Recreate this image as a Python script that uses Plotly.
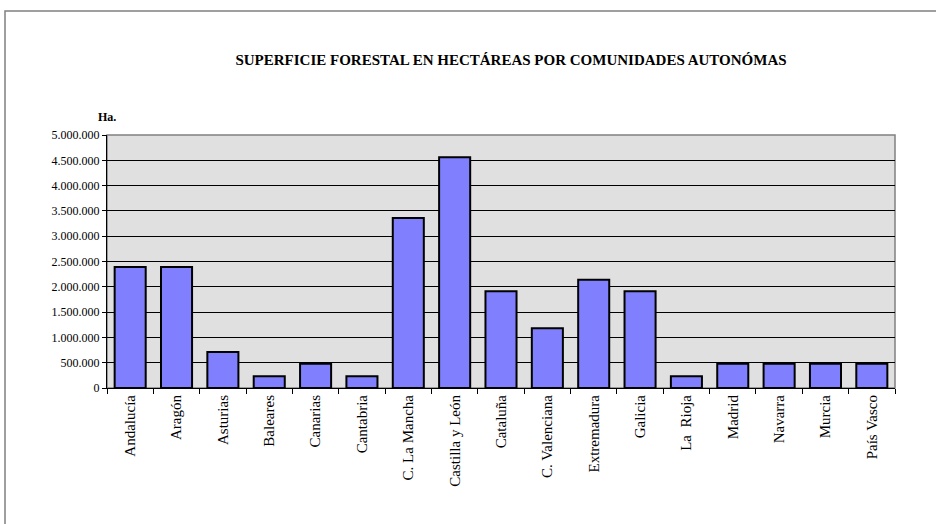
import plotly.graph_objects as go

categories = ["Andalucía", "Aragón", "Asturias", "Baleares", "Canarias", "Cantabria",
              "C. La Mancha", "Castilla y León", "Cataluña", "C. Valenciana", "Extremadura",
              "Galicia", "La  Rioja", "Madrid", "Navarra", "Murcia", "País Vasco"]
hectareas = [2390000, 2390000, 710000, 230000, 480000, 230000,
             3360000, 4560000, 1910000, 1180000, 2140000,
             1910000, 230000, 480000, 480000, 480000, 480000]
y_ticks = [0, 500000, 1000000, 1500000, 2000000, 2500000, 3000000, 3500000, 4000000, 4500000, 5000000]

W, H = 936, 524
L, R, T, B = 107, 41, 135, 136
pw, ph = W - L - R, H - T - B
SERIF = "Liberation Serif, Times New Roman, Tinos, DejaVu Serif, serif"

def px(x):
    return (x - L) / pw

def py(y):
    return (H - B - y) / ph

fig = go.Figure()
fig.add_trace(go.Bar(
    x=categories, y=hectareas,
    marker=dict(color="#8080FF", line=dict(color="#000000", width=2)),
))

fig.update_layout(
    width=W, height=H,
    margin=dict(l=L, r=R, t=T, b=B, autoexpand=False),
    paper_bgcolor="white",
    plot_bgcolor="#E0E0E0",
    separators=",.",
    bargap=0.33,
    showlegend=False,
    font=dict(family=SERIF, color="black"),
    title=dict(text="<b>SUPERFICIE FORESTAL EN HECTÁREAS POR COMUNIDADES AUTONÓMAS</b>",
               xref="container", yref="container",
               x=511 / W, xanchor="center", y=1 - 60 / H, yanchor="middle",
               font=dict(family=SERIF, size=15, color="black")),
    xaxis=dict(
        type="category", tickangle=-90, tickson="boundaries",
        ticks="outside", ticklen=5, tickcolor="black", tickwidth=1,
        showline=True, linecolor="black", linewidth=1,
        tickfont=dict(family=SERIF, size=15, color="black"),
        showgrid=False, zeroline=False,
    ),
    yaxis=dict(
        range=[0, 5000000], tickvals=y_ticks, tickformat=",d",
        ticks="outside", ticklen=4, tickcolor="black",
        showline=True, linecolor="black", linewidth=1,
        showgrid=True, gridcolor="black", gridwidth=1,
        zeroline=False,
        tickfont=dict(family=SERIF, size=12, color="black"),
    ),
    shapes=[
        dict(type="rect", xref="paper", yref="paper", x0=0, x1=1, y0=0, y1=1,
             line=dict(color="#808080", width=1.5), layer="below"),
        dict(type="rect", xref="paper", yref="paper", x0=px(5), x1=px(1000), y0=py(600), y1=py(11),
             line=dict(color="#808080", width=1.5), layer="below"),
    ],
    annotations=[
        dict(text="<b>Ha.</b>", xref="paper", yref="paper", x=px(107), y=py(117),
             xanchor="center", yanchor="middle", showarrow=False,
             font=dict(family=SERIF, size=12, color="black")),
    ],
)

fig.write_html("out.html", config={"displayModeBar": False},
               post_script="document.body.style.margin='0';document.body.style.padding='0';")
